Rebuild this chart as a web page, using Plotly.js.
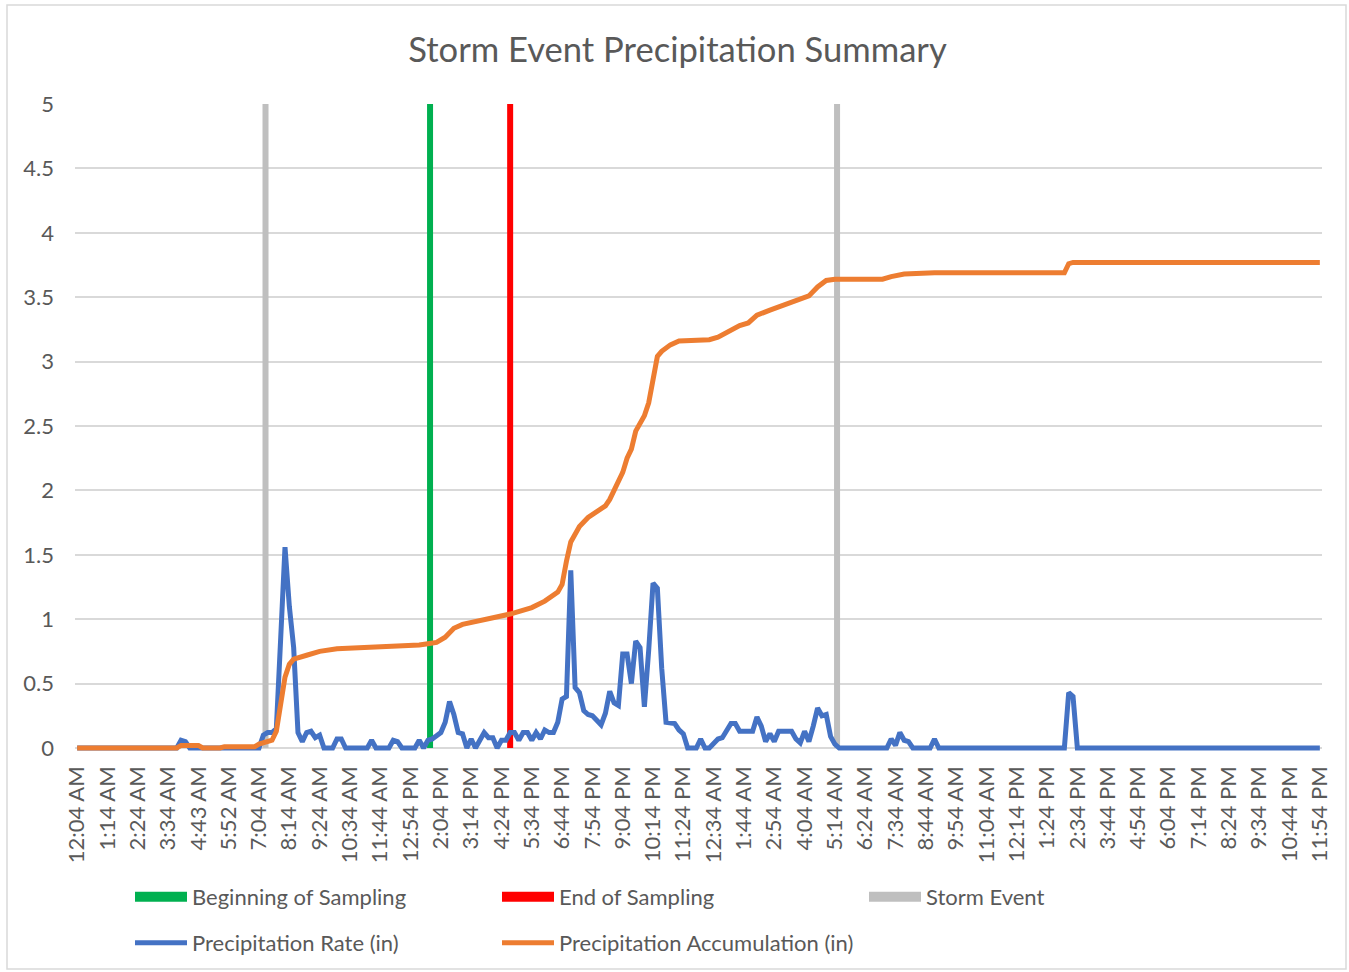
<!DOCTYPE html>
<html>
<head>
<meta charset="utf-8">
<script src="https://cdn.plot.ly/plotly-3.0.1.min.js"></script>
<style>
html,body{margin:0;padding:0;background:#fff;}
#chart{width:1349px;height:972px;}
</style>
</head>
<body>
<div id="chart"></div>
<script>
// Tick labels: every 7th 10-minute reading (index 0 = 12:04 AM day 1)
const tickLabels = ["12:04 AM","1:14 AM","2:24 AM","3:34 AM","4:43 AM","5:52 AM","7:04 AM","8:14 AM","9:24 AM","10:34 AM","11:44 AM","12:54 PM","2:04 PM","3:14 PM","4:24 PM","5:34 PM","6:44 PM","7:54 PM","9:04 PM","10:14 PM","11:24 PM","12:34 AM","1:44 AM","2:54 AM","4:04 AM","5:14 AM","6:24 AM","7:34 AM","8:44 AM","9:54 AM","11:04 AM","12:14 PM","1:24 PM","2:34 PM","3:44 PM","4:54 PM","6:04 PM","7:14 PM","8:24 PM","9:34 PM","10:44 PM","11:54 PM"];
const tickStep = 7;

// Precipitation Rate (in): reading index -> value
const rateIdx = [0,23,24,25,26,42,43,44,45,46,47,48,49,50,51,52,53,54,55,56,57,59,60,61,62,67,68,69,72,73,74,75,78,79,80,81,82,83,84,85,86,87,88,89,90,91,92,93,94,95,96,97,98,99,100,101,102,103,104,105,106,107,108,109,110,111,112,113,114,115,116,117,118,119,120,121,122,123,124,125,126,127,128,129,130,131,132,133,134,135,136,137,138,139,140,141,143,144,145,146,147,148,149,150,151,152,153,154,155,156,157,158,159,160,161,162,163,164,165,166,167,168,169,170,171,172,173,174,175,176,187,188,189,190,191,192,193,197,198,199,228,229,230,231,287];
const rateVal = [0,0,0.06,0.05,0,0,0.1,0.12,0.12,0.15,0.85,1.56,1.1,0.78,0.12,0.05,0.12,0.13,0.08,0.1,0,0,0.07,0.07,0,0,0.06,0,0,0.06,0.05,0,0,0.06,0,0.06,0.07,0.1,0.12,0.2,0.36,0.26,0.12,0.11,0,0.07,0,0.06,0.12,0.08,0.08,0,0.06,0.06,0.12,0.12,0.06,0.12,0.12,0.06,0.12,0.07,0.14,0.12,0.12,0.2,0.38,0.4,1.38,0.47,0.43,0.29,0.26,0.25,0.21,0.18,0.27,0.44,0.35,0.33,0.73,0.73,0.5,0.83,0.78,0.32,0.76,1.28,1.24,0.62,0.2,0.19,0.19,0.14,0.11,0,0,0.07,0,0,0.04,0.07,0.08,0.13,0.19,0.19,0.13,0.13,0.13,0.13,0.24,0.17,0.05,0.11,0.05,0.13,0.13,0.13,0.13,0.07,0.04,0.13,0.05,0.17,0.31,0.25,0.26,0.09,0.03,0,0,0.07,0.02,0.12,0.06,0.05,0,0,0.07,0,0,0.43,0.4,0,0];

// Precipitation Accumulation (in)
const accIdx = [0,23,24,28,29,33,34,41,42,43,44,45,46,47,48,49,50,53,56,60,68,73,79,81,83,85,86,87,89,92,96,100,105,108,111,112,113,114,115,116,118,121,122,123,124,125,126,127,128,129,130,131,132,133,134,135,137,139,143,146,148,151,153,155,157,160,164,167,169,171,173,175,186,188,191,198,228,229,230,287];
const accVal = [0,0,0.02,0.02,0,0,0.01,0.01,0.03,0.04,0.05,0.06,0.13,0.36,0.55,0.65,0.69,0.72,0.75,0.77,0.78,0.79,0.8,0.81,0.82,0.86,0.9,0.93,0.96,0.98,1.01,1.04,1.09,1.14,1.21,1.27,1.45,1.6,1.66,1.72,1.79,1.86,1.88,1.93,2.0,2.05,2.14,2.25,2.32,2.46,2.53,2.58,2.68,2.88,3.04,3.08,3.13,3.16,3.17,3.17,3.19,3.24,3.28,3.3,3.36,3.4,3.45,3.48,3.51,3.58,3.63,3.64,3.64,3.66,3.68,3.69,3.69,3.76,3.77,3.77];

// Event markers (reading index) and their full height
const beginSampling = [81.5];
const endSampling = [100];
const stormEvent = [43.5, 175.5];
const markerTop = 5;

function vlines(xs){
  const x = [], y = [];
  xs.forEach((v,i) => { if(i) {x.push(null); y.push(null);} x.push(v, v); y.push(0, markerTop); });
  return {x, y};
}

const FONT = 'Lato, "Open Sans", sans-serif';
const TXT = '#595959';
const C_GREEN = '#00B050', C_RED = '#FF0000', C_GRAY = '#BFBFBF', C_BLUE = '#4472C4', C_ORANGE = '#ED7D31';

const vb = vlines(beginSampling), ve = vlines(endSampling), vs = vlines(stormEvent);

const traces = [
  {x: vs.x, y: vs.y, mode: 'lines', line: {color: C_GRAY, width: 6}, showlegend: false, hoverinfo: 'skip'},
  {x: vb.x, y: vb.y, mode: 'lines', line: {color: C_GREEN, width: 6}, showlegend: false, hoverinfo: 'skip'},
  {x: ve.x, y: ve.y, mode: 'lines', line: {color: C_RED, width: 6}, showlegend: false, hoverinfo: 'skip'},
  {x: rateIdx, y: rateVal, mode: 'lines', name: 'Precipitation Rate (in)', line: {color: C_BLUE, width: 5}, legend: 'legend2', legendrank: 1},
  {x: accIdx, y: accVal, mode: 'lines', name: 'Precipitation Accumulation (in)', line: {color: C_ORANGE, width: 5}, legend: 'legend2', legendrank: 2},
  // legend entries for the event markers
  {x: [beginSampling[0]], y: [null], mode: 'lines', name: 'Beginning of Sampling', line: {color: C_GREEN, width: 10}, legendrank: 1},
  {x: [endSampling[0]], y: [null], mode: 'lines', name: 'End of Sampling', line: {color: C_RED, width: 10}, legendrank: 2},
  {x: [stormEvent[0]], y: [null], mode: 'lines', name: 'Storm Event', line: {color: C_GRAY, width: 10}, legendrank: 3}
];

const W = 1349, H = 972;
const mL = 75, mR = 27, mT = 104, mB = 221;
const pw = W - mL - mR, ph = H - mT - mB;
const px2x = p => (p - mL) / pw;
const px2y = p => (H - mB - p) / ph;

const legendCommon = {
  orientation: 'h', xanchor: 'left', yanchor: 'middle',
  font: {family: FONT, size: 22, color: TXT},
  itemwidth: 52, entrywidth: 300, entrywidthmode: 'pixels',
  bgcolor: 'rgba(0,0,0,0)', borderwidth: 0, traceorder: 'normal'
};

const layout = {
  width: W, height: H,
  margin: {l: mL, r: mR, t: mT, b: mB, pad: 0, autoexpand: false},
  paper_bgcolor: '#ffffff', plot_bgcolor: '#ffffff',
  font: {family: FONT, color: TXT},
  title: {text: 'Storm Event Precipitation Summary', font: {family: FONT, size: 34.6, color: TXT},
          x: 677.5 / W, xref: 'container', xanchor: 'center', y: 1 - 50 / H, yref: 'container', yanchor: 'middle'},
  xaxis: {
    range: [-0.5, 287.5], tickmode: 'array', automargin: false,
    tickvals: tickLabels.map((_, i) => i * tickStep), ticktext: tickLabels,
    tickangle: -90, tickfont: {family: FONT, size: 22, color: TXT},
    showgrid: false, zeroline: false, showline: false, ticks: '', ticklabelstandoff: 10
  },
  yaxis: {
    range: [-5 * 3 / 644, 5], tick0: 0, dtick: 0.5, automargin: false,
    tickfont: {family: FONT, size: 22, color: TXT},
    showgrid: true, gridcolor: '#D9D9D9', gridwidth: 2,
    zeroline: true, zerolinecolor: '#D9D9D9', zerolinewidth: 2,
    showline: false, ticks: '', ticklabelstandoff: 20
  },
  legend: Object.assign({}, legendCommon, {x: px2x(130), y: px2y(897)}),
  legend2: Object.assign({}, legendCommon, {x: px2x(130), y: px2y(943)}),
  shapes: [{type: 'rect', xref: 'paper', yref: 'paper', layer: 'below',
            x0: px2x(7), x1: px2x(1346), y0: px2y(969), y1: px2y(5),
            line: {color: '#D9D9D9', width: 1.5}, fillcolor: 'rgba(0,0,0,0)'}],
  showlegend: true
};

Plotly.newPlot('chart', traces, layout, {displayModeBar: false, staticPlot: true});
</script>
</body>
</html>
